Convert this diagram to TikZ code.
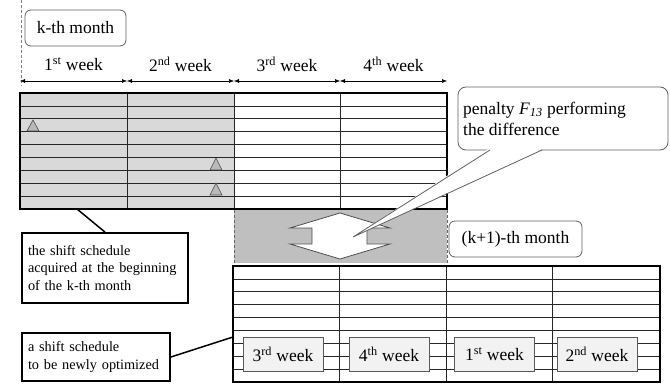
\documentclass[tikz,border=0pt]{standalone}
\usepackage{fontspec}
\setmainfont{Liberation Serif}
\usetikzlibrary{arrows.meta}
\begin{document}
\begin{tikzpicture}[x=1pt,y=-1pt,
  lbl/.style={font=\fontsize{17.5}{20}\selectfont, inner sep=0pt},
  roundbox/.style={draw=gray!75!black, rounded corners=6pt, fill=white, line width=0.8pt, font=\fontsize{17.5}{20}\selectfont},
  notebox/.style={draw=black, line width=1.8pt, fill=white, font=\fontsize{14.3}{17.5}\selectfont, align=left, inner xsep=6pt},
  gridline/.style={draw=black!85, line width=0.7pt},
  border/.style={draw=black, line width=1.8pt},
  weekbox/.style={draw=gray!70!black, fill=gray!10, line width=0.8pt, minimum width=80pt, minimum height=34pt, inner sep=0pt, font=\fontsize{17.5}{20}\selectfont},
  tri/.style={draw=black!70, fill=gray!55, line width=0.6pt},
  dim/.style={{Latex[length=5pt,width=4pt]}-{Latex[length=5pt,width=4pt]}, line width=0.5pt},
  leader/.style={draw=black, line width=1.5pt}]
\useasboundingbox (0,0) rectangle (670,385);

% dotted guide line
\draw[gray, densely dashed, line width=0.5pt] (21,0) -- (21,86);

% k-th month label
\node[roundbox, minimum width=101pt, minimum height=36pt] (kth) at (75.5,28) {k-th month};

% dimension arrows
\coordinate (d0) at (20,81);
\coordinate (d1) at (127,81);
\coordinate (d2) at (234,81);
\coordinate (d3) at (340,81);
\coordinate (d4) at (447,81);
\draw[dim] (d0) -- (d1);
\draw[dim] (d1) -- (d2);
\draw[dim] (d2) -- (d3);
\draw[dim] (d3) -- (d4);
\node[lbl] (w1) at (73.5,64) {1\textsuperscript{st} week};
\node[lbl] (w2) at (180.5,64) {2\textsuperscript{nd} week};
\node[lbl] (w3) at (287,64) {3\textsuperscript{rd} week};
\node[lbl] (w4) at (393.5,64) {4\textsuperscript{th} week};

% top table
\fill[gray!30] (20,93) rectangle (234,209);
\foreach \i in {1,...,8} \draw[gridline] (20,{93+\i*116/9}) -- (447,{93+\i*116/9});
\foreach \x in {127,234,340} \draw[gridline] (\x,93) -- (\x,209);
\draw[border] (20,93) rectangle (447,209);

% triangles
\draw[tri] (27,131) -- (33,120) -- (39,131) -- cycle;
\draw[tri] (210,170) -- (216,158) -- (222,170) -- cycle;
\draw[tri] (210,195) -- (216,183) -- (222,195) -- cycle;

% middle band
\fill[gray!50] (234,210) rectangle (447,263);
\draw[gray!80!black, densely dashed, line width=0.5pt] (234,210) -- (234,263);
\draw[gray!80!black, densely dashed, line width=0.5pt] (447,210) -- (447,263);

% double arrow
\draw[gray!60!black, fill=white, line width=0.8pt]
  (340,213) -- (390,228) -- (367,228) -- (367,244) -- (390,244) -- (340,259)
  -- (290,244) -- (312,244) -- (312,228) -- (290,228) -- cycle;

% (k+1)-th month label
\node[roundbox, minimum width=133pt, minimum height=36pt] (k1th) at (515.5,239) {(k+1)-th month};

% bottom table
\foreach \i in {1,...,8} \draw[gridline] (233,{266+\i*116/9}) -- (660,{266+\i*116/9});
\foreach \x in {339,446,552} \draw[gridline] (\x,266) -- (\x,382);
\draw[border] (233,266) rectangle (660,382);

\node[weekbox] (b3) at (283,354) {3\textsuperscript{rd} week};
\node[weekbox] (b4) at (389,354) {4\textsuperscript{th} week};
\node[weekbox] (b1) at (494.5,354) {1\textsuperscript{st} week};
\node[weekbox] (b2) at (597,354) {2\textsuperscript{nd} week};

% penalty callout
\node[draw=gray!75!black, rounded corners=8pt, fill=white, line width=0.8pt,
      minimum width=210pt, minimum height=63pt] (pen) at (563,118.5) {};
\coordinate (tip) at (353,237);
\coordinate (pa) at (490,150);
\coordinate (pb) at (542,150);
\fill[white] (489,148.5) -- (tip) -- (543,148.5) -- cycle;
\draw[gray!75!black, line width=0.8pt] (pa) -- (tip) -- (pb);
\node[font=\fontsize{17.5}{21}\selectfont, align=left, anchor=west, inner sep=0pt] (pentext) at (463,118.5)
  {penalty \textit{F}\textsubscript{\textit{13}}\ performing\\the difference};

% note boxes
\node[notebox, minimum width=166pt, minimum height=70pt, text width=154pt] (n1) at (105,268)
  {the shift schedule\\acquired at the beginning\\of the k-th month};
\coordinate (c1) at (77,209);
\draw[leader] (n1.north) -- (c1);

\node[notebox, minimum width=148pt, minimum height=48pt, text width=136pt] (n2) at (96,357)
  {a shift schedule\\to be newly optimized};
\coordinate (c2) at (233,337);
\draw[leader] (n2.east) -- (c2);
\end{tikzpicture}
\end{document}
